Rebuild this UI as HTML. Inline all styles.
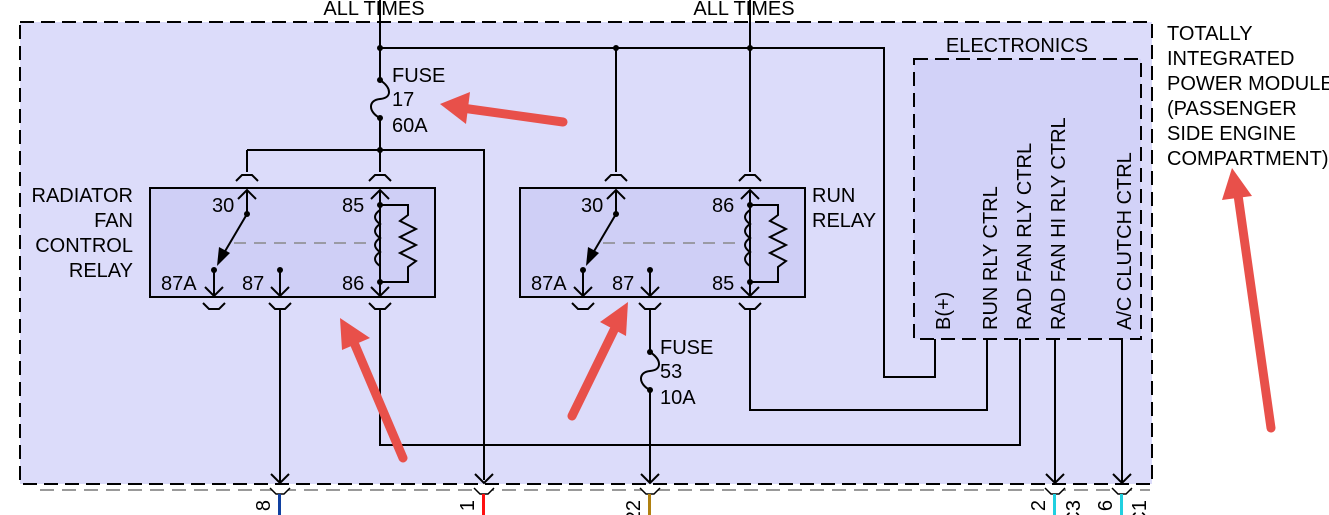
<!DOCTYPE html>
<html><head><meta charset="utf-8"><style>
html,body{margin:0;padding:0;background:#fff}
svg{display:block}
text{font-family:"Liberation Sans",Arial,sans-serif;font-size:20px;fill:#000}
</style></head><body>
<svg width="1329" height="515" viewBox="0 0 1329 515" xmlns="http://www.w3.org/2000/svg">
<rect x="20" y="22" width="1132" height="462" fill="#dcdcfa" stroke="#000" stroke-width="2" stroke-dasharray="14,7"/>
<rect x="150" y="188" width="285" height="109" fill="#cfcff6" stroke="#000" stroke-width="2"/>
<rect x="520" y="188" width="285" height="109" fill="#cfcff6" stroke="#000" stroke-width="2"/>
<rect x="914" y="59" width="227" height="280" fill="#d2d2f8" stroke="#000" stroke-width="2" stroke-dasharray="14,7"/>
<g stroke="#000" stroke-width="2" fill="none">
<path d="M380 0V80M380 118V150"/>
<path d="M750 0V172"/>
<path d="M380 48H884V377H935V339"/>
<path d="M616 48V172"/>
<path d="M247 150H484V480"/>
<path d="M247 150V172"/>
<path d="M380 150V172"/>
<path d="M380 80 C392 88,392 98,380 99 C368 100,368 112,380 118"/>
<path d="M236 181l6-6h10l6 6M369 181l6-6h10l6 6M605 181l6-6h10l6 6M739 181l6-6h10l6 6"/>
<path d="M238 199l9-9 9 9M247 190V214M371 199l9-9 9 9M380 190V282M607 199l9-9 9 9M616 190V214M741 199l9-9 9 9M750 190V282"/>
<path d="M380 205H408V215l-8 6 16 8-16 8 16 8-16 8 16 8-8 6V282H380"/>
<path d="M380 210 q-10 7 0 14 q-10 7 0 14 q-10 7 0 14 q-10 7 0 14"/>
<path d="M750 205H778V215l-8 6 16 8-16 8 16 8-16 8 16 8-8 6V282H750"/>
<path d="M750 210 q-10 7 0 14 q-10 7 0 14 q-10 7 0 14 q-10 7 0 14"/>
<path d="M247 214L224 253M616 214L593 253"/>
<path d="M214 270V296M280 270V296M380 282V296M583 270V296M650 270V296M750 282V296"/>
<path d="M205 287l9 9 9-9M271 287l9 9 9-9M371 287l9 9 9-9M574 287l9 9 9-9M641 287l9 9 9-9M741 287l9 9 9-9"/>
<path d="M203 303l6 6h10l6-6M269 303l6 6h10l6-6M369 303l6 6h10l6-6M572 303l6 6h10l6-6M639 303l6 6h10l6-6M739 303l6 6h10l6-6"/>
<path d="M280 309V482M380 309V445H1020V339M750 309V410H987V339M650 309V352M650 390V482M1055 339V482M1122 339V482"/>
<path d="M650 352 C662 360,662 370,650 371 C638 372,638 384,650 390"/>
<path d="M271 474l9 9 9-9M475 474l9 9 9-9M641 474l9 9 9-9M1046 474l9 9 9-9M1113 474l9 9 9-9"/>
</g>
<path d="M217 266L219 247 230 253z" fill="#000"/>
<path d="M586 266L588 247 599 253z" fill="#000"/>
<g fill="#000">
<circle cx="380" cy="48" r="3"/><circle cx="616" cy="48" r="3"/><circle cx="750" cy="48" r="3"/>
<circle cx="380" cy="80" r="3"/><circle cx="380" cy="118" r="3"/><circle cx="380" cy="150" r="3"/>
<circle cx="247" cy="214" r="3"/><circle cx="214" cy="270" r="3"/><circle cx="280" cy="270" r="3"/>
<circle cx="380" cy="205" r="3"/><circle cx="380" cy="282" r="3"/>
<circle cx="616" cy="214" r="3"/><circle cx="583" cy="270" r="3"/><circle cx="650" cy="270" r="3"/>
<circle cx="750" cy="205" r="3"/><circle cx="750" cy="282" r="3"/>
<circle cx="650" cy="352" r="3"/><circle cx="650" cy="390" r="3"/>
</g>
<g stroke="#888" stroke-width="1.5" stroke-dasharray="12,8"><path d="M234 243H372M603 243H742"/></g>
<path d="M40 490H1150" stroke="#999" stroke-width="2" stroke-dasharray="14,8"/>
<g stroke="#000" stroke-width="1.5" fill="#fff">
<path d="M270 488l6 6h8l6-6M474 488l6 6h8l6-6M640 488l6 6h8l6-6M1045 488l6 6h8l6-6M1112 488l6 6h8l6-6"/>
</g>
<rect x="278" y="494" width="3" height="21" fill="#1040a0"/>
<rect x="482" y="494" width="3" height="21" fill="#ff1010"/>
<rect x="648" y="494" width="3" height="21" fill="#b08010"/>
<rect x="1053" y="494" width="3" height="21" fill="#20d0e0"/>
<rect x="1120" y="494" width="3" height="21" fill="#20d0e0"/>
<g>
<text transform="translate(270,500) rotate(-90)" text-anchor="end">8</text>
<text transform="translate(474,500) rotate(-90)" text-anchor="end">1</text>
<text transform="translate(640,500) rotate(-90)" text-anchor="end">22</text>
<text transform="translate(1045,500) rotate(-90)" text-anchor="end">2</text>
<text transform="translate(1080,500) rotate(-90)" text-anchor="end">C3</text>
<text transform="translate(1112,500) rotate(-90)" text-anchor="end">6</text>
<text transform="translate(1146,500) rotate(-90)" text-anchor="end">C1</text>
</g>
<text x="374" y="15" text-anchor="middle">ALL TIMES</text>
<text x="744" y="15" text-anchor="middle">ALL TIMES</text>
<text x="392" y="82">FUSE</text><text x="392" y="106">17</text><text x="392" y="132">60A</text>
<text x="660" y="354">FUSE</text><text x="660" y="378">53</text><text x="660" y="404">10A</text>
<text x="133" y="202" text-anchor="end">RADIATOR</text>
<text x="133" y="227" text-anchor="end">FAN</text>
<text x="133" y="252" text-anchor="end">CONTROL</text>
<text x="133" y="277" text-anchor="end">RELAY</text>
<text x="812" y="202">RUN</text><text x="812" y="227">RELAY</text>
<text x="212" y="212">30</text><text x="342" y="212">85</text>
<text x="161" y="290">87A</text><text x="242" y="290">87</text><text x="342" y="290">86</text>
<text x="581" y="212">30</text><text x="712" y="212">86</text>
<text x="531" y="290">87A</text><text x="612" y="290">87</text><text x="712" y="290">85</text>
<text x="1017" y="52" text-anchor="middle">ELECTRONICS</text>
<text transform="translate(950,330) rotate(-90)">B(+)</text>
<text transform="translate(997,330) rotate(-90)">RUN RLY CTRL</text>
<text transform="translate(1031,330) rotate(-90)">RAD FAN RLY CTRL</text>
<text transform="translate(1065,330) rotate(-90)">RAD FAN HI RLY CTRL</text>
<text transform="translate(1131,330) rotate(-90)">A/C CLUTCH CTRL</text>
<text x="1167" y="40">TOTALLY</text>
<text x="1167" y="65">INTEGRATED</text>
<text x="1167" y="90">POWER MODULE</text>
<text x="1167" y="115">(PASSENGER</text>
<text x="1167" y="140">SIDE ENGINE</text>
<text x="1167" y="165">COMPARTMENT)</text>
<g stroke="#e8504a" stroke-width="9" stroke-linecap="round" fill="#e8504a">
<path d="M563 122L462 108"/>
<path d="M403 458L355 345"/>
<path d="M572 416L614 330"/>
<path d="M1271 428L1238 195"/>
</g>
<g fill="#e8504a">
<path d="M440 104L470 92 466 124z"/>
<path d="M340 318L370 338 342 350z"/>
<path d="M628 302L626 336 600 322z"/>
<path d="M1232 168L1252 196 1222 200z"/>
</g>
</svg>
</body></html>
